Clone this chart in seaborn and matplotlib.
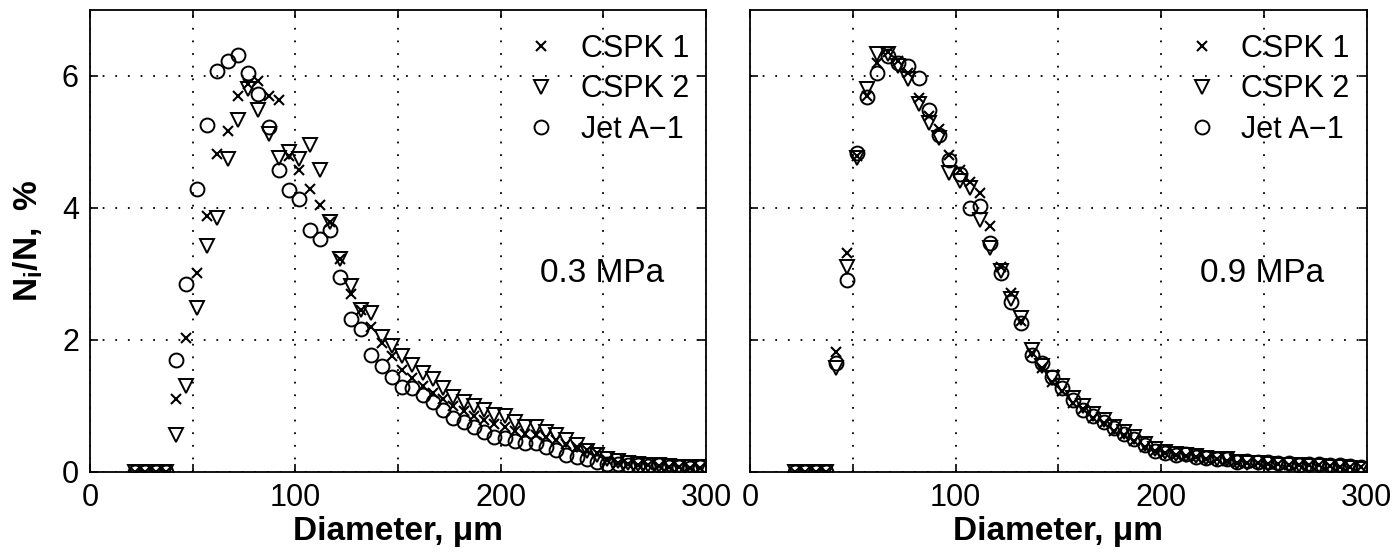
import numpy as np
import pandas as pd
import seaborn as sns
import matplotlib
matplotlib.use("Agg")
import matplotlib.pyplot as plt

# bin centres, um
diameter = [22, 27, 32, 37, 42, 47, 52, 57, 62, 67, 72, 77, 82, 87, 92, 97,
            102, 107, 112, 117, 122, 127, 132, 137, 142, 147, 152, 157, 162,
            167, 172, 177, 182, 187, 192, 197, 202, 207, 212, 217, 222, 227,
            232, 237, 242, 247, 252, 257, 262, 267, 272, 277, 282, 287, 292, 297]

# 0.3 MPa
cspk1_03 = [0, 0, 0, 0, 1.10, 2.03, 3.02, 3.88, 4.82, 5.17, 5.69, 5.88, 5.93, 5.70,
            5.64, 4.78, 4.58, 4.29, 4.05, 3.78, 3.22, 2.70, 2.45, 2.20, 1.95, 1.75,
            1.55, 1.42, 1.30, 1.20, 1.10, 1.00, 0.92, 0.85, 0.78, 0.72, 0.68, 0.62,
            0.58, 0.55, 0.52, 0.48, 0.42, 0.38, 0.33, 0.28, 0.18, 0.14, 0.12, 0.11,
            0.10, 0.09, 0.08, 0.07, 0.06, 0.06]
cspk2_03 = [0, 0, 0, 0, 0.56, 1.30, 2.48, 3.43, 3.85, 4.74, 5.34, 5.81, 5.49, 5.12,
            4.76, 4.85, 4.74, 4.96, 4.58, 3.78, 3.22, 2.81, 2.45, 2.40, 2.05, 1.90,
            1.75, 1.62, 1.50, 1.40, 1.27, 1.14, 1.06, 0.99, 0.94, 0.86, 0.84, 0.76,
            0.68, 0.68, 0.61, 0.56, 0.48, 0.40, 0.32, 0.25, 0.20, 0.16, 0.13, 0.12,
            0.11, 0.10, 0.09, 0.08, 0.07, 0.07]
jeta1_03 = [0, 0, 0, 0, 1.70, 2.85, 4.28, 5.26, 6.07, 6.22, 6.32, 6.05, 5.72, 5.22,
            4.58, 4.27, 4.13, 3.66, 3.53, 3.67, 2.96, 2.32, 2.16, 1.77, 1.60, 1.44,
            1.29, 1.27, 1.17, 1.06, 0.94, 0.81, 0.76, 0.68, 0.61, 0.53, 0.51, 0.46,
            0.43, 0.43, 0.38, 0.33, 0.25, 0.23, 0.20, 0.15, 0.12, 0.12, 0.10, 0.10,
            0.09, 0.10, 0.08, 0.07, 0.06, 0.07]

# 0.9 MPa
cspk1_09 = [0, 0, 0, 0, 1.82, 3.32, 4.78, 5.70, 6.20, 6.37, 6.22, 6.05, 5.67, 5.40,
            5.19, 4.80, 4.58, 4.40, 4.23, 3.72, 3.11, 2.71, 2.28, 1.80, 1.58, 1.36,
            1.22, 1.05, 0.95, 0.82, 0.74, 0.62, 0.55, 0.46, 0.38, 0.32, 0.28, 0.25,
            0.24, 0.22, 0.20, 0.19, 0.17, 0.14, 0.14, 0.13, 0.12, 0.12, 0.11, 0.10,
            0.10, 0.10, 0.09, 0.08, 0.08, 0.07]
cspk2_09 = [0, 0, 0, 0, 1.58, 3.10, 4.75, 5.80, 6.33, 6.33, 6.15, 5.95, 5.57, 5.29,
            5.06, 4.53, 4.41, 4.30, 3.82, 3.39, 3.05, 2.62, 2.33, 1.85, 1.60, 1.42,
            1.30, 1.12, 0.99, 0.88, 0.79, 0.68, 0.60, 0.52, 0.42, 0.34, 0.30, 0.27,
            0.26, 0.24, 0.21, 0.20, 0.19, 0.15, 0.14, 0.13, 0.12, 0.11, 0.10, 0.10,
            0.09, 0.09, 0.08, 0.07, 0.06, 0.04]
jeta1_09 = [0, 0, 0, 0, 1.65, 2.90, 4.84, 5.68, 6.05, 6.30, 6.20, 6.15, 5.97, 5.49,
            5.10, 4.73, 4.52, 4.00, 4.03, 3.47, 3.01, 2.58, 2.25, 1.77, 1.65, 1.44,
            1.27, 1.09, 0.93, 0.85, 0.76, 0.66, 0.58, 0.50, 0.40, 0.32, 0.28, 0.25,
            0.27, 0.23, 0.21, 0.20, 0.19, 0.15, 0.16, 0.15, 0.15, 0.14, 0.13, 0.11,
            0.12, 0.12, 0.10, 0.10, 0.09, 0.08]

fuels = ["CSPK 1", "CSPK 2", "Jet A\u22121"]
pressures = ["0.3 MPa", "0.9 MPa"]
xticks = [0, 50, 100, 150, 200, 250, 300]
xticklabels = ["0", "", "100", "", "200", "", "300"]
yticks = [0, 2, 4, 6]

sns.set_style("ticks")
plt.rcParams["font.family"] = ["Liberation Sans", "DejaVu Sans"]
plt.rcParams["mathtext.fontset"] = "custom"
plt.rcParams["mathtext.rm"] = "Liberation Sans"
plt.rcParams["mathtext.bf"] = "Liberation Sans:bold"
plt.rcParams["text.color"] = "k"
plt.rcParams["axes.labelcolor"] = "k"
plt.rcParams["xtick.color"] = "k"
plt.rcParams["ytick.color"] = "k"

fig = plt.figure(figsize=(13.93, 5.57), dpi=100)
ax1 = fig.add_axes([0.0646, 0.153, 0.4422, 0.829])
ax2 = fig.add_axes([0.5384, 0.153, 0.4427, 0.829])

styles = {
    "CSPK 1": dict(marker="x", ms=7.5, mew=1.5, mec="k", color="k"),
    "CSPK 2": dict(marker="v", ms=10, mew=1.4, mfc="none", mec="k", color="k"),
    "Jet A\u22121": dict(marker="o", ms=10, mew=1.4, mfc="none", mec="k", color="k"),
}

panels = [
    (ax1, pressures[0], [cspk1_03, cspk2_03, jeta1_03]),
    (ax2, pressures[1], [cspk1_09, cspk2_09, jeta1_09]),
]

for ax, pres, series in panels:
    for name, vals in zip(fuels, series):
        df = pd.DataFrame({"d": diameter, "n": vals})
        sns.lineplot(data=df, x="d", y="n", ax=ax, linestyle="none",
                     label=name, **styles[name])
    ax.set_xlim(0, 300)
    ax.set_ylim(0, 7)
    ax.set_xticks(xticks)
    ax.set_xticklabels(xticklabels)
    ax.set_yticks(yticks)
    ax.grid(True, color="k", linestyle=(0, (1, 6)), linewidth=1.3)
    ax.tick_params(direction="in", length=6, width=1.2, top=True, right=True,
                   labelsize=22, pad=8, colors="k")
    for sp in ax.spines.values():
        sp.set_linewidth(1.3)
        sp.set_color("k")
    ax.set_xlabel("Diameter, \u03bcm", fontsize=24, fontweight="bold", labelpad=2)
    ax.set_ylabel("")
    ax.text(219, 2.87, pres, fontsize=24, ha="left", va="baseline")
    ax.legend(loc="upper right", bbox_to_anchor=(1.0, 0.985), frameon=False,
              fontsize=22, handletextpad=0.8, labelspacing=0.35,
              borderaxespad=0.15, handlelength=1.0)

ax1.set_ylabel(r"$\mathbf{N_i/N,\ \%}$", fontsize=24, labelpad=12)
ax2.set_yticklabels([])

fig.savefig("out.png", dpi=100)
